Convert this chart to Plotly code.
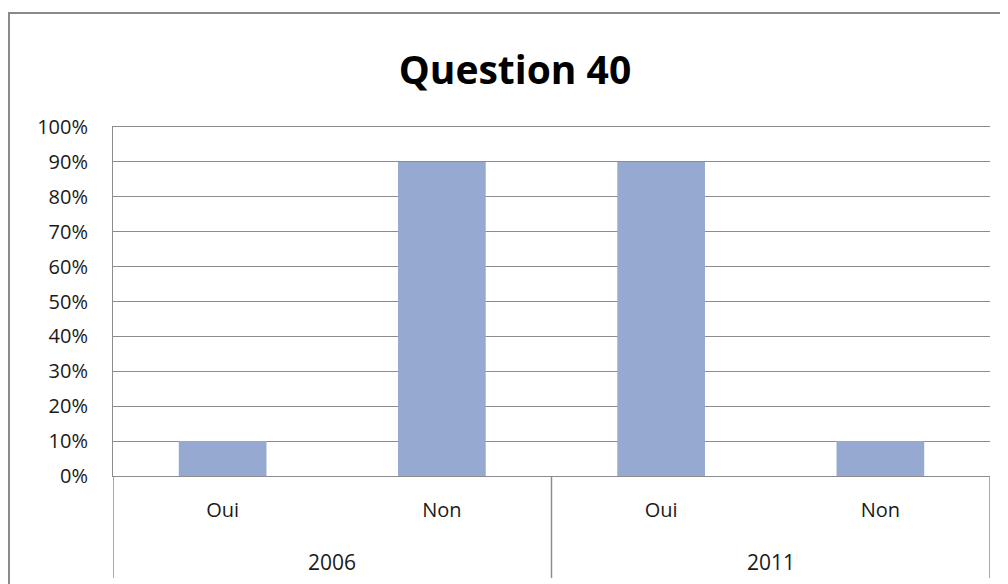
import plotly.graph_objects as go

years = ["2006", "2011"]
answers = ["Oui", "Non", "Oui", "Non"]
values = [0.10, 0.90, 0.90, 0.10]
ticks_pct = [0, 0.1, 0.2, 0.3, 0.4, 0.5, 0.6, 0.7, 0.8, 0.9, 1.0]

pos = list(range(len(answers)))
grey = "#8c8c8c"

fig = go.Figure(go.Bar(x=pos, y=values, width=0.4, marker=dict(color="#95a9d1", line=dict(width=0))))

fig.update_layout(
    width=1000, height=576,
    margin=dict(l=105, r=18, t=119, b=108),
    paper_bgcolor="white", plot_bgcolor="white",
    font=dict(family="Open Sans", size=20, color="#1a1a1a"),
    title=dict(text="<b>Question 40</b>", x=0.507, xanchor="center", y=0.892, yanchor="middle",
               font=dict(family="Open Sans", size=39, color="black")),
    showlegend=False,
)
fig.update_yaxes(range=[0, 1], tickvals=ticks_pct, tickformat=".0%", showgrid=True,
                 gridcolor=grey, gridwidth=1, showline=True, linecolor=grey, ticks="",
                 zeroline=False, ticklabelstandoff=20, tickfont=dict(size=20))
# mirror draws the 100% line along the top of the plot area
fig.update_xaxes(range=[-0.5, len(answers) - 0.5], tickvals=pos, ticktext=answers, showline=True,
                 mirror=True, linecolor=grey, ticks="", showgrid=False, ticklabelstandoff=16,
                 tickfont=dict(size=20))

# year group labels and dividers
n_per = len(answers) // len(years)
for i, yr in enumerate(years):
    fig.add_annotation(x=i * n_per + (n_per - 1) / 2, y=-0.2464, xref="x", yref="paper", text=yr,
                       showarrow=False, font=dict(size=21), yanchor="middle")
for i in range(len(years) + 1):
    fig.add_shape(type="line", xref="x", yref="paper", x0=i * n_per - 0.5, x1=i * n_per - 0.5,
                  y0=0, y1=-0.292, line=dict(color=grey, width=1.5))

# outer chart border
fig.add_shape(type="rect", xref="paper", yref="paper", x0=-0.1186, x1=1.05, y0=-0.35, y1=1.3266,
              line=dict(color="#8a8a8a", width=2), fillcolor="rgba(0,0,0,0)", layer="below")

fig.write_html("out.html")
